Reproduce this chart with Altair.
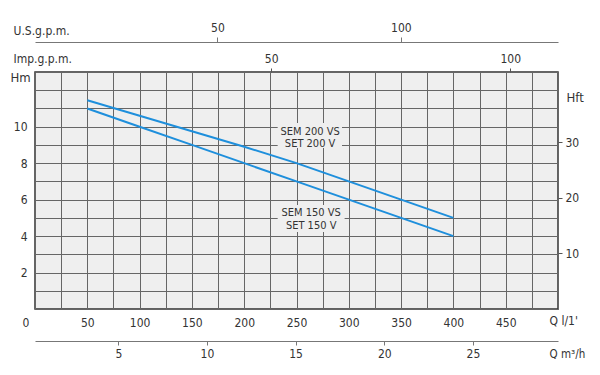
import altair as alt
import pandas as pd

# ---- data ----
q_lmin = [50, 100, 150, 200, 250, 300, 350, 400]
h_sem200 = [11.45, 10.6, 9.75, 8.9, 8.0, 7.0, 6.0, 5.0]
h_sem150 = [11.0, 10.0, 9.0, 8.0, 7.0, 6.0, 5.0, 4.0]

lmin_labels = [0, 50, 100, 150, 200, 250, 300, 350, 400, 450]
lmin_grid = [0, 25, 50, 75, 100, 125, 150, 175, 200, 225, 250, 275, 300,
             325, 350, 375, 400, 425, 450, 475, 500]
hm_labels = [2, 4, 6, 8, 10]
hm_grid = [0, 1, 2, 3, 4, 5, 6, 7, 8, 9, 10, 11, 12, 13]
hft_labels = [10, 20, 30]
m3h_labels = [5, 10, 15, 20, 25]
imp_labels = [50, 100]
us_labels = [50, 100]

label_lines = ["SEM 200 VS", "SET 200 V", "SEM 150 VS", "SET 150 V"]
label_q = [263, 263, 264, 264]
label_h = [9.73, 9.03, 5.28, 4.57]

box_q1 = [232, 232]
box_q2 = [293.5, 296]
box_h1 = [10.2, 5.7]
box_h2 = [8.83, 4.22]

FONT = "DejaVu Sans Condensed"
TXT = "#333333"
BLUE = "#1e8fdc"
BG = "#efefef"

curves = pd.DataFrame({
    "q": q_lmin + q_lmin,
    "h": h_sem200 + h_sem150,
    "model": ["SEM 200 VS"] * len(q_lmin) + ["SEM 150 VS"] * len(q_lmin),
})
labels = pd.DataFrame({"t": label_lines, "q": label_q, "h": label_h})
boxes = pd.DataFrame({"q1": box_q1, "q2": box_q2, "h1": box_h1, "h2": box_h2})


def xs():
    return alt.Scale(domain=[0, 500], nice=False, zero=False)


def ys():
    return alt.Scale(domain=[0, 13], nice=False, zero=False)


x_axis = alt.Axis(
    orient="bottom", values=lmin_grid,
    labelExpr=f"indexof({lmin_labels}, datum.value) >= 0 ? datum.label : ''",
    grid=True, gridColor="#666666", gridWidth=1, gridOpacity=1,
    domain=False, ticks=False, tickSize=0, labelPadding=8,
    labelFont=FONT, labelFontSize=12, labelColor=TXT, labelOverlap=False,
    labelOffset={"expr": "datum.value == 0 ? -13 : 0"},
    title="Q l/1'", titleFont=FONT, titleFontSize=12, titleFontWeight="normal",
    titleColor=TXT, titleX=514, titleY=11, titleAlign="left",
    titleBaseline="middle", titleAnchor="start",
)
y_axis = alt.Axis(
    orient="left", values=hm_grid,
    labelExpr=f"indexof({hm_labels}, datum.value) >= 0 ? datum.label : ''",
    grid=True, gridColor="#666666", gridWidth=1, gridOpacity=1,
    domain=False, ticks=False, tickSize=0, labelPadding=8,
    labelFont=FONT, labelFontSize=12, labelColor=TXT, labelOverlap=False,
    title="Hm", titleFont=FONT, titleFontSize=13, titleFontWeight="normal",
    titleColor=TXT, titleAngle=0, titleX=-15, titleY=5, titleAlign="center",
    titleBaseline="middle", titleAnchor="start",
)

lines = alt.Chart(curves).mark_line(color=BLUE, strokeWidth=2).encode(
    x=alt.X("q:Q", scale=xs(), axis=x_axis),
    y=alt.Y("h:Q", scale=ys(), axis=y_axis),
    detail="model:N",
)
rects = alt.Chart(boxes).mark_rect(fill=BG).encode(
    x=alt.X("q1:Q", scale=xs(), axis=None), x2="q2:Q",
    y=alt.Y("h1:Q", scale=ys(), axis=None), y2="h2:Q",
)
texts = alt.Chart(labels).mark_text(font=FONT, fontSize=11, color=TXT).encode(
    x=alt.X("q:Q", scale=xs(), axis=None),
    y=alt.Y("h:Q", scale=ys(), axis=None),
    text="t:N",
)

m3h = alt.Chart(pd.DataFrame({"v": m3h_labels})).mark_point(opacity=0).encode(
    x=alt.X("v:Q", scale=alt.Scale(domain=[0.3, 29.8], nice=False, zero=False),
            axis=alt.Axis(orient="bottom", offset=32, values=m3h_labels,
                          grid=False, domain=True, domainColor="#777777",
                          domainWidth=1.2, ticks=True, tickSize=4,
                          tickColor="#777777", labelPadding=3,
                          labelFont=FONT, labelFontSize=12, labelColor=TXT,
                          title="Q m³/h", titleFont=FONT, titleFontSize=11.5,
                          titleFontWeight="normal", titleColor=TXT,
                          titleX=514, titleY=13, titleAlign="left",
                          titleBaseline="middle", titleAnchor="start")),
)
imp = alt.Chart(pd.DataFrame({"v": imp_labels})).mark_point(opacity=0).encode(
    x=alt.X("v:Q", scale=alt.Scale(domain=[0.6, 110], nice=False, zero=False),
            axis=alt.Axis(orient="top", offset=0, values=imp_labels,
                          grid=False, domain=False, ticks=True, tickSize=4,
                          tickColor="#555555", labelPadding=3,
                          labelFont=FONT, labelFontSize=12, labelColor=TXT,
                          title="Imp.g.p.m.", titleFont=FONT, titleFontSize=12,
                          titleFontWeight="normal", titleColor=TXT,
                          titleX=-22, titleY=-14, titleAlign="left",
                          titleBaseline="middle", titleAnchor="start")),
)
us = alt.Chart(pd.DataFrame({"v": us_labels})).mark_point(opacity=0).encode(
    x=alt.X("v:Q", scale=alt.Scale(domain=[0.3, 142.8], nice=False, zero=False),
            axis=alt.Axis(orient="top", offset=30, values=us_labels,
                          grid=False, domain=True, domainColor="#777777",
                          domainWidth=1.2, ticks=True, tickSize=5,
                          tickColor="#777777", labelPadding=3,
                          labelFont=FONT, labelFontSize=12, labelColor=TXT,
                          title="U.S.g.p.m.", titleFont=FONT, titleFontSize=12,
                          titleFontWeight="normal", titleColor=TXT,
                          titleX=-22, titleY=-12, titleAlign="left",
                          titleBaseline="middle", titleAnchor="start")),
)
hft = alt.Chart(pd.DataFrame({"v": hft_labels})).mark_point(opacity=0).encode(
    y=alt.Y("v:Q", scale=alt.Scale(domain=[0, 42.65], nice=False, zero=False),
            axis=alt.Axis(orient="right", values=hft_labels, grid=False,
                          domain=False, ticks=True, tickSize=4,
                          tickColor="#555555", labelPadding=3,
                          labelFont=FONT, labelFontSize=12, labelColor=TXT,
                          title="Hft", titleFont=FONT, titleFontSize=13,
                          titleFontWeight="normal", titleColor=TXT,
                          titleAngle=0, titleX=8, titleY=25, titleAlign="left",
                          titleBaseline="middle", titleAnchor="start")),
)

chart = alt.layer(lines, rects, texts, m3h, imp, us, hft).resolve_scale(
    x="independent", y="independent"
).properties(
    width=523, height=237,
    autosize=alt.AutoSizeParams(type="none"),
    padding={"left": 27, "top": 64, "right": 34, "bottom": 50},
    background="white",
).configure_view(
    fill=BG, stroke="#333333", strokeWidth=1.5,
)

chart.save("out.html", embed_options={"renderer": "svg", "actions": False})
